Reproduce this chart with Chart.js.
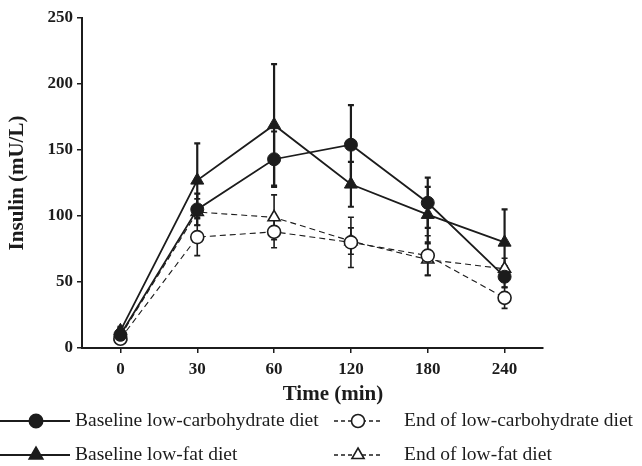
<!DOCTYPE html>
<html>
<head>
<meta charset="utf-8">
<script src="https://cdn.jsdelivr.net/npm/chart.js@4/dist/chart.umd.min.js"></script>
<style>
  html, body { margin: 0; padding: 0; background: #fff; }
  #wrap { width: 642px; height: 466px; position: relative; }
</style>
</head>
<body>
<div id="wrap"><canvas id="insulinChart" width="642" height="466"></canvas></div>
<script>
const timeLabels = ['0', '30', '60', '120', '180', '240'];

const baselineLowCarb = [10, 105, 143, 154, 110, 54];
const baselineLowCarbErr = [3, 12, 21, 30, 19, 8];
const baselineLowFat = [13, 127, 169, 124, 101, 80];
const baselineLowFatErr = [3, 28, 46, 17, 21, 25];
const endLowCarb = [7, 84, 88, 80, 70, 38];
const endLowCarbErr = [2, 14, 12, 19, 15, 8];
const endLowFat = [9, 103, 99, 81, 67, 60];
const endLowFatErr = [2, 10, 17, 10, 12, 8];

const ink = '#1c1c1c';
const serif = "'Liberation Serif', 'DejaVu Serif', serif";

// error bars drawn under the markers
const errorBars = {
  id: 'errorBars',
  beforeDatasetsDraw(chart) {
    const ctx = chart.ctx;
    const yScale = chart.scales.y;
    ctx.save();
    ctx.strokeStyle = ink;
    chart.data.datasets.forEach((ds, di) => {
      const meta = chart.getDatasetMeta(di);
      ctx.lineWidth = ds.errWidth;
      ds.data.forEach((v, i) => {
        const x = meta.data[i].x;
        const top = yScale.getPixelForValue(v + ds.err[i]);
        const bot = yScale.getPixelForValue(v - ds.err[i]);
        ctx.beginPath();
        ctx.moveTo(x, top); ctx.lineTo(x, bot);
        ctx.moveTo(x - 3, top); ctx.lineTo(x + 3, top);
        ctx.moveTo(x - 3, bot); ctx.lineTo(x + 3, bot);
        ctx.stroke();
      });
    });
    ctx.restore();
  }
};

// x title and the two-column legend under the plot
const bottomText = {
  id: 'bottomText',
  afterDraw(chart) {
    const ctx = chart.ctx;
    ctx.save();
    ctx.fillStyle = ink;
    ctx.textBaseline = 'middle';
    ctx.textAlign = 'center';
    ctx.font = 'bold 21px ' + serif;
    ctx.fillText('Time (min)', 333, 395);

    ctx.textAlign = 'left';
    ctx.font = '19.5px ' + serif;
    const items = [
      { ds: 0, x0: 0, x1: 70, mx: 36, tx: 75, y: 421 },
      { ds: 2, x0: 334, x1: 382, mx: 358, tx: 404, y: 421 },
      { ds: 1, x0: 0, x1: 70, mx: 36, tx: 75, y: 455 },
      { ds: 3, x0: 334, x1: 382, mx: 358, tx: 404, y: 455 }
    ];
    items.forEach(it => {
      const ds = chart.data.datasets[it.ds];
      ctx.strokeStyle = ink;
      ctx.lineWidth = ds.borderDash ? 1.6 : 2;
      ctx.setLineDash(ds.borderDash ? [4, 3] : []);
      ctx.beginPath();
      ctx.moveTo(it.x0, it.y); ctx.lineTo(it.x1, it.y);
      ctx.stroke();
      ctx.setLineDash([]);
      ctx.fillStyle = ds.pointBackgroundColor;
      Chart.helpers.drawPoint(ctx, {
        pointStyle: ds.pointStyle,
        radius: ds.pointRadius,
        borderWidth: ds.pointBorderWidth,
        rotation: 0
      }, it.mx, it.y);
      ctx.fillStyle = ink;
      ctx.fillText(ds.label, it.tx, it.y);
    });
    ctx.restore();
  }
};

new Chart(document.getElementById('insulinChart'), {
  type: 'line',
  data: {
    labels: timeLabels,
    datasets: [
      {
        label: 'Baseline low-carbohydrate diet',
        data: baselineLowCarb, err: baselineLowCarbErr, errWidth: 2.2,
        borderColor: ink, borderWidth: 1.8,
        pointStyle: 'circle', pointRadius: 6.5,
        pointBackgroundColor: ink, pointBorderColor: ink, pointBorderWidth: 1
      },
      {
        label: 'Baseline low-fat diet',
        data: baselineLowFat, err: baselineLowFatErr, errWidth: 2.2,
        borderColor: ink, borderWidth: 1.8,
        pointStyle: 'triangle', pointRadius: 7.5,
        pointBackgroundColor: ink, pointBorderColor: ink, pointBorderWidth: 1
      },
      {
        label: 'End of low-carbohydrate diet',
        data: endLowCarb, err: endLowCarbErr, errWidth: 1.6,
        borderColor: ink, borderWidth: 1.1, borderDash: [6, 4],
        pointStyle: 'circle', pointRadius: 6.5,
        pointBackgroundColor: '#fff', pointBorderColor: ink, pointBorderWidth: 1.6
      },
      {
        label: 'End of low-fat diet',
        data: endLowFat, err: endLowFatErr, errWidth: 1.6,
        borderColor: ink, borderWidth: 1.1, borderDash: [6, 4],
        pointStyle: 'triangle', pointRadius: 7,
        pointBackgroundColor: '#fff', pointBorderColor: ink, pointBorderWidth: 1.6
      }
    ]
  },
  options: {
    responsive: false,
    animation: false,
    layout: { padding: { left: 0, top: 18, right: 99, bottom: 88 } },
    plugins: { legend: { display: false }, tooltip: { enabled: false } },
    elements: { line: { tension: 0 } },
    scales: {
      x: {
        offset: true,
        grid: { display: true, drawOnChartArea: false, tickLength: 5, color: ink, lineWidth: 1.5, offset: false },
        border: { display: true, color: ink, width: 2 },
        ticks: { color: ink, padding: 6, font: { family: serif, size: 17, weight: 'bold' } },
        afterFit(scale) { scale.height = 30; }
      },
      y: {
        min: 0, max: 250,
        grid: { display: true, drawOnChartArea: false, tickLength: 5, color: ink, lineWidth: 1.5 },
        border: { display: true, color: ink, width: 2 },
        ticks: { stepSize: 50, color: ink, padding: 4, font: { family: serif, size: 17, weight: 'bold' } },
        title: {
          display: true, text: 'Insulin (mU/L)', color: ink,
          font: { family: serif, size: 21, weight: 'bold' },
          padding: { top: 5.4, bottom: 0 }
        },
        afterFit(scale) { scale.width = 82; }
      }
    }
  },
  plugins: [errorBars, bottomText]
});
</script>
</body>
</html>
